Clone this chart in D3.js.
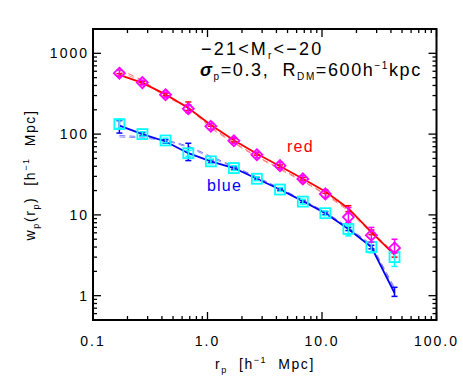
<!DOCTYPE html>
<html>
<head>
<meta charset="utf-8">
<script src="https://cdn.jsdelivr.net/npm/d3@7"></script>
<style>
  body { margin: 0; background: #fff; }
  text { font-family: "Liberation Sans", Arial, sans-serif; white-space: pre; }
</style>
</head>
<body>
<div id="chart"></div>
<script>
// projected separation bins (h^-1 Mpc)
const rp = [0.17, 0.27, 0.43, 0.68, 1.07, 1.7, 2.7, 4.3, 6.8, 10.7, 17, 27, 43];

// red galaxies: data (diamonds) and errors
const redData = [568, 434, 307, 206, 125, 82.7, 55.6, 40.7, 27.9, 18.2, 9.4, 5.6, 3.9];
const redLo   = [520, 405, 285, 185, 115, 76, 51, 37, 25.5, 16.5, 8.1, 4.6, 3.4];
const redHi   = [620, 465, 330, 230, 136, 90, 60, 44.5, 30.5, 20, 12.3, 7.0, 5.0];
// red model (solid) with errors, and dashed variants
const redModel   = [540, 430, 310, 210, 130, 84, 57, 40, 28, 19.5, 12, 6.1, 3.2];
const redModelLo = [520, 415, 298, 196, 125, 80, 55, 38.5, 27, 18.5, 11, 5.7, 3.0];
const redModelHi = [560, 445, 322, 250, 135, 88, 59, 41.5, 29, 20.5, 13, 6.5, 3.4];
const redDash1 = [640, 460, 300, 218, 122, 79, 53, 37.5, 26.5, 18.2, 11.6, 6.2, 3.4];
const redDash2 = [600, 445, 292, 212, 118, 77, 52, 36.5, 26, 17.8, 11.2, 5.9, 3.2];

// blue galaxies: data (squares) and errors
const blueData = [133, 100, 83.5, 58, 46, 38, 28, 20.6, 14.6, 10.5, 6.7, 4.0, 3.0];
const blueLo   = [118, 94, 78, 53, 43, 35.5, 26.5, 19.5, 13.6, 9.8, 5.5, 3.4, 2.3];
const blueHi   = [150, 107, 89, 63, 49, 40.5, 29.5, 21.8, 15.6, 11.2, 7.3, 4.6, 3.4];
// blue model (solid) with errors, and dashed variants
const blueModel   = [127, 100, 81, 58, 46, 38, 28, 20.6, 14.8, 10.5, 6.7, 4.0, 1.08];
const blueModelLo = [103, 96, 77, 47, 44, 36.5, 27, 20, 14.3, 10.1, 6.4, 3.8, 0.98];
const blueModelHi = [147, 104, 85, 77, 48, 39.5, 29, 21.2, 15.3, 10.9, 7.0, 4.2, 1.27];
const blueDash1 = [96, 93, 85, 71, 53, 40, 29.5, 21.4, 15.3, 10.9, 7.0, 4.3, 1.25];
const blueDash2 = [92, 90, 83, 69, 51, 39, 29, 21, 15, 10.7, 6.8, 4.15, 1.18];

const xTicks = [0.1, 1, 10, 100];
const xTickLabels = ["0.1", "1.0", "10.0", "100.0"];
const yTicks = [1, 10, 100, 1000];
const yTickLabels = ["1", "10", "100", "1000"];

const W = 463, H = 380;
const mLeft = 93, mRight = 436.5, mTop = 29, mBottom = 320;

const svg = d3.select("#chart").append("svg")
    .attr("width", W).attr("height", H);

const x = d3.scaleLog().domain([0.1, 100]).range([mLeft, mRight]);
const y = d3.scaleLog().domain([0.5, 2000]).range([mBottom, mTop]);

// frame
svg.append("rect")
    .attr("x", mLeft).attr("y", mTop)
    .attr("width", mRight - mLeft).attr("height", mBottom - mTop)
    .attr("fill", "none").attr("stroke", "#000").attr("stroke-width", 2);

// minor ticks
const xMinor = [];
for (let d = 0.1; d < 100; d *= 10)
    for (let k = 2; k <= 9; k++) xMinor.push(+(d * k).toPrecision(3));
const yMinor = [0.6, 0.7, 0.8, 0.9];
for (let d = 1; d < 1000; d *= 10)
    for (let k = 2; k <= 9; k++) yMinor.push(d * k);
yMinor.push(2000);

const ticks = svg.append("g").attr("stroke", "#000").attr("stroke-width", 1.3);
function xt(vals, len) {
    vals.forEach(v => {
        ticks.append("line").attr("x1", x(v)).attr("x2", x(v)).attr("y1", mBottom).attr("y2", mBottom - len);
        ticks.append("line").attr("x1", x(v)).attr("x2", x(v)).attr("y1", mTop).attr("y2", mTop + len);
    });
}
function yt(vals, len) {
    vals.forEach(v => {
        ticks.append("line").attr("y1", y(v)).attr("y2", y(v)).attr("x1", mLeft).attr("x2", mLeft + len);
        ticks.append("line").attr("y1", y(v)).attr("y2", y(v)).attr("x1", mRight).attr("x2", mRight - len);
    });
}
xt(xTicks, 8); xt(xMinor, 4);
yt(yTicks, 8); yt(yMinor, 4);

// tick labels
svg.append("g").selectAll("text").data(xTicks).join("text")
    .attr("x", d => x(d)).attr("y", 346)
    .attr("text-anchor", "middle").attr("font-size", 14).attr("letter-spacing", 2)
    .text((d, i) => xTickLabels[i]);
svg.append("g").selectAll("text").data(yTicks).join("text")
    .attr("x", 89).attr("y", d => y(d) + 5)
    .attr("text-anchor", "end").attr("font-size", 14).attr("letter-spacing", 2)
    .text((d, i) => yTickLabels[i]);

// axis titles
const xl = svg.append("text").attr("x", 265).attr("y", 369)
    .attr("text-anchor", "middle").attr("font-size", 14).attr("letter-spacing", 1.6);
xl.append("tspan").text("r");
xl.append("tspan").attr("font-size", 9).attr("dy", 4).text("p");
xl.append("tspan").attr("dy", -4).text("  [h");
xl.append("tspan").attr("font-size", 9).attr("dy", -6).text("−1");
xl.append("tspan").attr("dy", 6).text("  Mpc]");

const yl = svg.append("text")
    .attr("transform", "translate(35,175) rotate(-90)")
    .attr("text-anchor", "middle").attr("font-size", 14).attr("letter-spacing", 1.6);
yl.append("tspan").text("w");
yl.append("tspan").attr("font-size", 9).attr("dy", 4).text("p");
yl.append("tspan").attr("dy", -4).text("(r");
yl.append("tspan").attr("font-size", 9).attr("dy", 4).text("p");
yl.append("tspan").attr("dy", -4).text(")  [h");
yl.append("tspan").attr("font-size", 9).attr("dy", -6).text("−1");
yl.append("tspan").attr("dy", 6).text("  Mpc]");

// annotation
const t1 = svg.append("text").attr("x", 201).attr("y", 55)
    .attr("font-size", 18).attr("letter-spacing", 2.2);
t1.append("tspan").text("−21<M");
t1.append("tspan").attr("font-size", 10).attr("dy", 4).text("r");
t1.append("tspan").attr("dy", -4).text("<−20");
const t2 = svg.append("text").attr("x", 200).attr("y", 76)
    .attr("font-size", 18).attr("letter-spacing", 1.6);
t2.append("tspan").attr("font-weight", "bold").attr("font-style", "italic").text("σ");
t2.append("tspan").attr("font-size", 10).attr("dy", 4).text("p");
t2.append("tspan").attr("dy", -4).text("=0.3,  R");
t2.append("tspan").attr("font-size", 10).attr("dy", 4).text("DM");
t2.append("tspan").attr("dy", -4).text("=600h");
t2.append("tspan").attr("font-size", 10).attr("dy", -7).text("−1");
t2.append("tspan").attr("dy", 7).text("kpc");

svg.append("text").attr("x", 287).attr("y", 152).attr("font-size", 16)
    .attr("letter-spacing", 1.2).attr("fill", "#ff0000").text("red");
svg.append("text").attr("x", 207).attr("y", 191).attr("font-size", 16)
    .attr("letter-spacing", 1.2).attr("fill", "#0000ff").text("blue");

const line = vals => d3.line().x((d, i) => x(rp[i])).y(d => y(d))(vals);

// dashed model variants
[[redDash1, "#ff5050"], [redDash2, "#ff7070"], [blueDash1, "#5050ff"], [blueDash2, "#7070ff"]]
    .forEach(([v, c]) => svg.append("path").attr("d", line(v))
        .attr("fill", "none").attr("stroke", c).attr("stroke-width", 0.8)
        .attr("stroke-dasharray", "6,4"));

function errbars(lo, hi, color, cap, w) {
    const g = svg.append("g").attr("stroke", color).attr("stroke-width", w);
    rp.forEach((r, i) => {
        const cx = x(r);
        g.append("line").attr("x1", cx).attr("x2", cx).attr("y1", y(lo[i])).attr("y2", y(hi[i]));
        g.append("line").attr("x1", cx - cap).attr("x2", cx + cap).attr("y1", y(lo[i])).attr("y2", y(lo[i]));
        g.append("line").attr("x1", cx - cap).attr("x2", cx + cap).attr("y1", y(hi[i])).attr("y2", y(hi[i]));
    });
}

// model lines
svg.append("path").attr("d", line(redModel))
    .attr("fill", "none").attr("stroke", "#ff0000").attr("stroke-width", 1.8);
svg.append("path").attr("d", line(blueModel))
    .attr("fill", "none").attr("stroke", "#0000ff").attr("stroke-width", 1.8);
errbars(redModelLo, redModelHi, "#ff0000", 3, 1.5);
errbars(blueModelLo, blueModelHi, "#0000ff", 3, 1.5);

// data
errbars(blueLo, blueHi, "#00ffff", 3, 1.5);
svg.append("g").selectAll("rect").data(blueData).join("rect")
    .attr("x", (d, i) => x(rp[i]) - 5).attr("y", d => y(d) - 5)
    .attr("width", 10).attr("height", 10)
    .attr("fill", "none").attr("stroke", "#00ffff").attr("stroke-width", 1.8);

errbars(redLo, redHi, "#ff00ff", 3, 1.5);
svg.append("g").selectAll("path.dia").data(redData).join("path")
    .attr("class", "dia")
    .attr("d", (d, i) => {
        const cx = x(rp[i]), cy = y(d), s = 5.5;
        return `M${cx},${cy - s}L${cx + s},${cy}L${cx},${cy + s}L${cx - s},${cy}Z`;
    })
    .attr("fill", "none").attr("stroke", "#ff00ff").attr("stroke-width", 1.8);
</script>
</body>
</html>
